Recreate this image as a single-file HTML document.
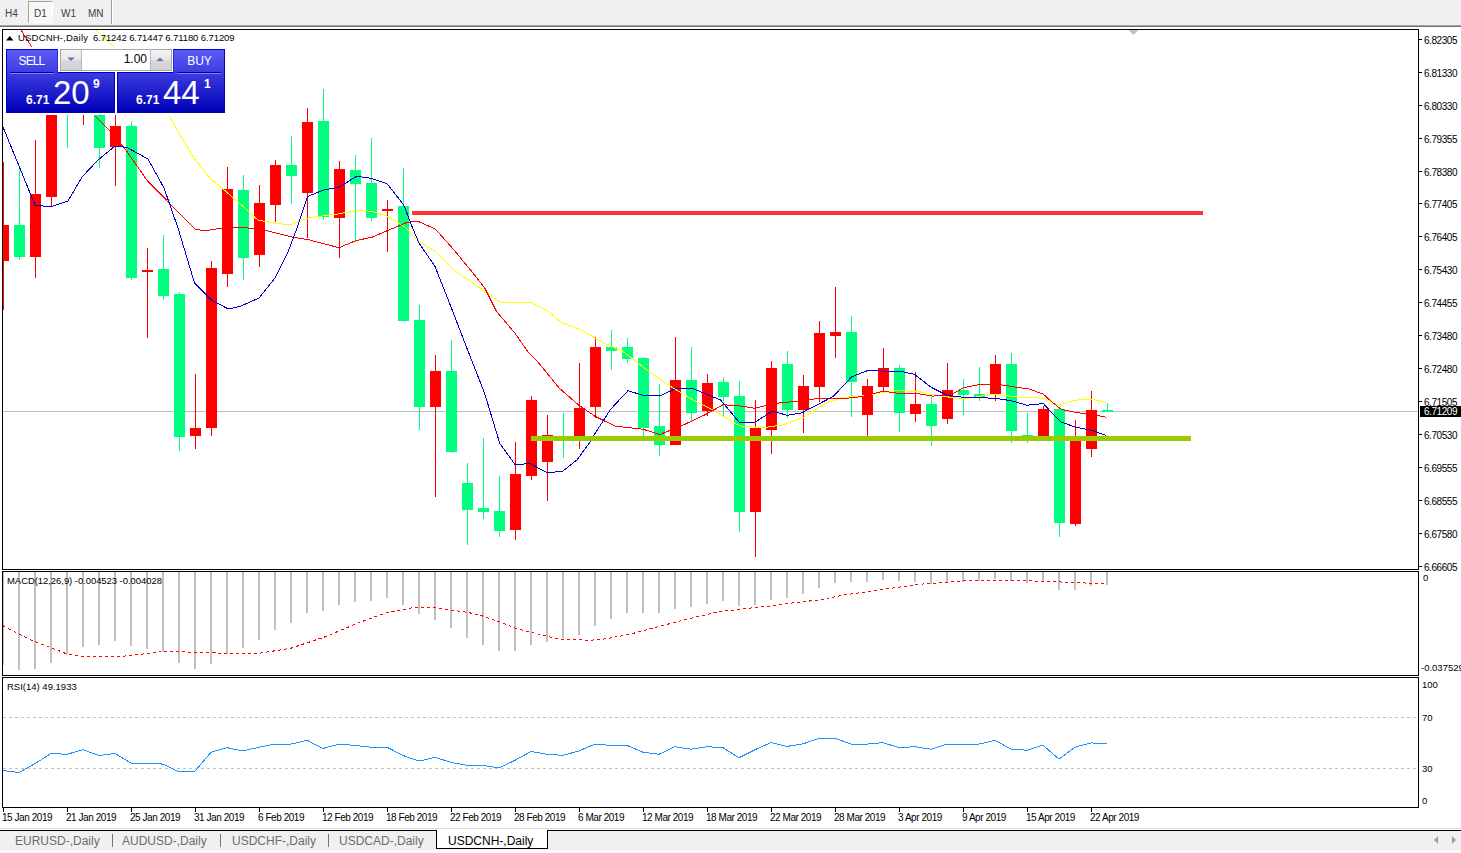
<!DOCTYPE html>
<html><head><meta charset="utf-8"><style>
html,body{margin:0;padding:0;}
body{width:1461px;height:853px;position:relative;overflow:hidden;background:#fff;font-family:"Liberation Sans",sans-serif;}
.t{position:absolute;font-size:9.5px;line-height:13px;color:#000;white-space:nowrap;}
#tb{position:absolute;left:0;top:0;width:1461px;height:25px;background:#F0F0F0;}
#tb .b{position:absolute;top:7px;font-size:10px;line-height:13px;color:#404040;}
#tbl{position:absolute;left:0;top:25px;width:1461px;height:2px;background:linear-gradient(#A8A8A8 50%,#6E6E6E 50%);}
#bot{position:absolute;left:0;top:831px;width:1461px;height:19px;background:#F0F0F0;}
#bot .tab{position:absolute;top:3px;font-size:12px;line-height:14px;color:#6D6D6D;}
.panel{position:absolute;}
</style></head><body>
<div id="tb">
 <div style="position:absolute;left:28px;top:1px;width:25px;height:22px;box-sizing:border-box;border-left:1px solid #A0A0A0;border-top:1px solid #A0A0A0;border-right:1px solid #fff;border-bottom:1px solid #fff;background:#F7F7F7"></div>
 <div class="b" style="left:5px">H4</div>
 <div class="b" style="left:34px">D1</div>
 <div class="b" style="left:61px">W1</div>
 <div class="b" style="left:88px">MN</div>
 <div style="position:absolute;left:111px;top:0;width:1px;height:24px;background:#A0A0A0"></div>
 <div style="position:absolute;left:112px;top:0;width:1px;height:24px;background:#fff"></div>
</div>
<div id="tbl"></div>
<svg width="1461" height="853" style="position:absolute;left:0;top:0"><defs><clipPath id="cm"><rect x="3" y="30" width="1415" height="538"/></clipPath><clipPath id="cmacd"><rect x="3" y="572" width="1415" height="103"/></clipPath><clipPath id="crsi"><rect x="3" y="678" width="1415" height="128"/></clipPath></defs><g clip-path="url(#cm)" shape-rendering="crispEdges"><rect x="3" y="411" width="1415" height="1" fill="#C0C0C0"/><rect x="3" y="162" width="1" height="148" fill="#FF0000"/><rect x="-2" y="225" width="11" height="36" fill="#FF0000"/><rect x="19" y="170" width="1" height="90" fill="#00FF7F"/><rect x="14" y="225" width="11" height="32" fill="#00FF7F"/><rect x="35" y="140" width="1" height="138" fill="#FF0000"/><rect x="30" y="194" width="11" height="63" fill="#FF0000"/><rect x="51" y="90" width="1" height="117" fill="#FF0000"/><rect x="46" y="100" width="11" height="97" fill="#FF0000"/><rect x="67" y="70" width="1" height="78" fill="#00FF7F"/><rect x="62" y="80" width="11" height="29" fill="#00FF7F"/><rect x="83" y="80" width="1" height="45" fill="#FF0000"/><rect x="78" y="95" width="11" height="11" fill="#FF0000"/><rect x="99" y="90" width="1" height="78" fill="#00FF7F"/><rect x="94" y="100" width="11" height="48" fill="#00FF7F"/><rect x="115" y="100" width="1" height="86" fill="#FF0000"/><rect x="110" y="126" width="11" height="21" fill="#FF0000"/><rect x="131" y="121" width="1" height="159" fill="#00FF7F"/><rect x="126" y="126" width="11" height="152" fill="#00FF7F"/><rect x="147" y="248" width="1" height="90" fill="#FF0000"/><rect x="142" y="270" width="11" height="2" fill="#FF0000"/><rect x="163" y="235" width="1" height="65" fill="#00FF7F"/><rect x="158" y="269" width="11" height="27" fill="#00FF7F"/><rect x="179" y="292" width="1" height="159" fill="#00FF7F"/><rect x="174" y="294" width="11" height="143" fill="#00FF7F"/><rect x="195" y="374" width="1" height="75" fill="#FF0000"/><rect x="190" y="428" width="11" height="8" fill="#FF0000"/><rect x="211" y="261" width="1" height="175" fill="#FF0000"/><rect x="206" y="268" width="11" height="160" fill="#FF0000"/><rect x="227" y="167" width="1" height="120" fill="#FF0000"/><rect x="222" y="189" width="11" height="85" fill="#FF0000"/><rect x="243" y="175" width="1" height="105" fill="#00FF7F"/><rect x="238" y="190" width="11" height="68" fill="#00FF7F"/><rect x="259" y="185" width="1" height="82" fill="#FF0000"/><rect x="254" y="203" width="11" height="52" fill="#FF0000"/><rect x="275" y="160" width="1" height="62" fill="#FF0000"/><rect x="270" y="165" width="11" height="40" fill="#FF0000"/><rect x="291" y="136" width="1" height="68" fill="#00FF7F"/><rect x="286" y="165" width="11" height="11" fill="#00FF7F"/><rect x="307" y="108" width="1" height="130" fill="#FF0000"/><rect x="302" y="122" width="11" height="71" fill="#FF0000"/><rect x="323" y="89" width="1" height="131" fill="#00FF7F"/><rect x="318" y="121" width="11" height="96" fill="#00FF7F"/><rect x="339" y="161" width="1" height="97" fill="#FF0000"/><rect x="334" y="169" width="11" height="49" fill="#FF0000"/><rect x="355" y="155" width="1" height="87" fill="#00FF7F"/><rect x="350" y="170" width="11" height="14" fill="#00FF7F"/><rect x="371" y="138" width="1" height="83" fill="#00FF7F"/><rect x="366" y="183" width="11" height="35" fill="#00FF7F"/><rect x="387" y="200" width="1" height="52" fill="#FF0000"/><rect x="382" y="209" width="11" height="2" fill="#FF0000"/><rect x="403" y="168" width="1" height="154" fill="#00FF7F"/><rect x="398" y="206" width="11" height="115" fill="#00FF7F"/><rect x="419" y="305" width="1" height="125" fill="#00FF7F"/><rect x="414" y="320" width="11" height="87" fill="#00FF7F"/><rect x="435" y="355" width="1" height="142" fill="#FF0000"/><rect x="430" y="371" width="11" height="36" fill="#FF0000"/><rect x="451" y="340" width="1" height="113" fill="#00FF7F"/><rect x="446" y="371" width="11" height="81" fill="#00FF7F"/><rect x="467" y="463" width="1" height="82" fill="#00FF7F"/><rect x="462" y="483" width="11" height="27" fill="#00FF7F"/><rect x="483" y="438" width="1" height="81" fill="#00FF7F"/><rect x="478" y="508" width="11" height="4" fill="#00FF7F"/><rect x="499" y="476" width="1" height="61" fill="#00FF7F"/><rect x="494" y="511" width="11" height="20" fill="#00FF7F"/><rect x="515" y="442" width="1" height="98" fill="#FF0000"/><rect x="510" y="474" width="11" height="56" fill="#FF0000"/><rect x="531" y="396" width="1" height="84" fill="#FF0000"/><rect x="526" y="400" width="11" height="76" fill="#FF0000"/><rect x="547" y="415" width="1" height="86" fill="#FF0000"/><rect x="542" y="435" width="11" height="27" fill="#FF0000"/><rect x="563" y="413" width="1" height="45" fill="#00FF7F"/><rect x="558" y="436" width="11" height="5" fill="#00FF7F"/><rect x="579" y="363" width="1" height="86" fill="#FF0000"/><rect x="574" y="408" width="11" height="29" fill="#FF0000"/><rect x="595" y="337" width="1" height="81" fill="#FF0000"/><rect x="590" y="347" width="11" height="60" fill="#FF0000"/><rect x="611" y="330" width="1" height="40" fill="#00FF7F"/><rect x="606" y="347" width="11" height="4" fill="#00FF7F"/><rect x="627" y="338" width="1" height="25" fill="#00FF7F"/><rect x="622" y="347" width="11" height="12" fill="#00FF7F"/><rect x="643" y="357" width="1" height="79" fill="#00FF7F"/><rect x="638" y="358" width="11" height="70" fill="#00FF7F"/><rect x="659" y="384" width="1" height="72" fill="#00FF7F"/><rect x="654" y="426" width="11" height="19" fill="#00FF7F"/><rect x="675" y="337" width="1" height="108" fill="#FF0000"/><rect x="670" y="380" width="11" height="65" fill="#FF0000"/><rect x="691" y="347" width="1" height="75" fill="#00FF7F"/><rect x="686" y="380" width="11" height="33" fill="#00FF7F"/><rect x="707" y="374" width="1" height="42" fill="#FF0000"/><rect x="702" y="383" width="11" height="28" fill="#FF0000"/><rect x="723" y="377" width="1" height="39" fill="#00FF7F"/><rect x="718" y="382" width="11" height="15" fill="#00FF7F"/><rect x="739" y="381" width="1" height="151" fill="#00FF7F"/><rect x="734" y="396" width="11" height="116" fill="#00FF7F"/><rect x="755" y="400" width="1" height="157" fill="#FF0000"/><rect x="750" y="428" width="11" height="84" fill="#FF0000"/><rect x="771" y="361" width="1" height="93" fill="#FF0000"/><rect x="766" y="368" width="11" height="62" fill="#FF0000"/><rect x="787" y="351" width="1" height="67" fill="#00FF7F"/><rect x="782" y="364" width="11" height="46" fill="#00FF7F"/><rect x="803" y="375" width="1" height="58" fill="#FF0000"/><rect x="798" y="386" width="11" height="24" fill="#FF0000"/><rect x="819" y="321" width="1" height="81" fill="#FF0000"/><rect x="814" y="333" width="11" height="54" fill="#FF0000"/><rect x="835" y="287" width="1" height="71" fill="#FF0000"/><rect x="830" y="332" width="11" height="4" fill="#FF0000"/><rect x="851" y="316" width="1" height="101" fill="#00FF7F"/><rect x="846" y="332" width="11" height="50" fill="#00FF7F"/><rect x="867" y="379" width="1" height="57" fill="#FF0000"/><rect x="862" y="386" width="11" height="29" fill="#FF0000"/><rect x="883" y="348" width="1" height="43" fill="#FF0000"/><rect x="878" y="368" width="11" height="19" fill="#FF0000"/><rect x="899" y="365" width="1" height="67" fill="#00FF7F"/><rect x="894" y="368" width="11" height="45" fill="#00FF7F"/><rect x="915" y="372" width="1" height="50" fill="#FF0000"/><rect x="910" y="404" width="11" height="10" fill="#FF0000"/><rect x="931" y="397" width="1" height="49" fill="#00FF7F"/><rect x="926" y="404" width="11" height="22" fill="#00FF7F"/><rect x="947" y="363" width="1" height="61" fill="#FF0000"/><rect x="942" y="390" width="11" height="29" fill="#FF0000"/><rect x="963" y="379" width="1" height="36" fill="#00FF7F"/><rect x="958" y="390" width="11" height="5" fill="#00FF7F"/><rect x="979" y="367" width="1" height="34" fill="#00FF7F"/><rect x="974" y="394" width="11" height="3" fill="#00FF7F"/><rect x="995" y="355" width="1" height="46" fill="#FF0000"/><rect x="990" y="364" width="11" height="30" fill="#FF0000"/><rect x="1011" y="353" width="1" height="90" fill="#00FF7F"/><rect x="1006" y="364" width="11" height="67" fill="#00FF7F"/><rect x="1027" y="413" width="1" height="30" fill="#00FF7F"/><rect x="1022" y="435" width="11" height="2" fill="#00FF7F"/><rect x="1043" y="406" width="1" height="33" fill="#FF0000"/><rect x="1038" y="409" width="11" height="30" fill="#FF0000"/><rect x="1059" y="408" width="1" height="129" fill="#00FF7F"/><rect x="1054" y="409" width="11" height="114" fill="#00FF7F"/><rect x="1075" y="420" width="1" height="106" fill="#FF0000"/><rect x="1070" y="438" width="11" height="86" fill="#FF0000"/><rect x="1091" y="391" width="1" height="66" fill="#FF0000"/><rect x="1086" y="410" width="11" height="39" fill="#FF0000"/><rect x="1107" y="403" width="1" height="9" fill="#00FF7F"/><rect x="1102" y="410" width="11" height="2" fill="#00FF7F"/></g><g clip-path="url(#cm)"><polyline fill="none" stroke="#FFFF00" stroke-width="1" shape-rendering="crispEdges"  points="96.0,30.0 113.8,46.8"/><polyline fill="none" stroke="#FFFF00" stroke-width="1" shape-rendering="crispEdges"  points="168.7,115.7 194.5,159.0 211.0,179.0 225.0,190.7 243.7,207.0 257.8,220.0 276.5,223.5 290.0,224.7 308.7,217.7 336.9,214.2 358.0,210.2 372.0,211.3 388.4,216.5 404.8,227.0 421.2,243.0 435.3,251.3 454.0,270.0 484.5,291.1 501.0,302.8 531.4,302.8 547.8,311.0 561.9,322.7 580.0,329.3 603.4,342.7 622.2,350.9 648.0,370.8 673.7,388.4 692.5,399.6 713.6,410.5 739.4,425.9 762.8,427.7 784.0,424.7 805.0,416.5 826.0,403.1 842.5,397.3 861.2,396.1 880.0,393.0 893.4,390.7 916.9,391.2 935.6,395.4 963.7,398.9 994.2,394.2 1020.0,397.3 1043.4,398.2 1058.4,405.2 1075.3,400.1 1092.2,399.5 1106.3,402.4"/><polyline fill="none" stroke="#FF0000" stroke-width="1" shape-rendering="crispEdges"  points="21.0,30.0 31.6,46.8"/><polyline fill="none" stroke="#FF0000" stroke-width="1" shape-rendering="crispEdges"  points="95.0,115.7 110.0,131.0 126.6,150.9 147.7,181.3 168.7,202.4 195.7,229.5 206.0,230.7 220.0,228.4 240.0,227.0 265.0,230.2 293.0,237.2 307.6,239.5 339.0,247.7 355.6,240.7 372.0,237.2 388.4,230.2 407.0,222.4 417.7,221.2 435.3,229.0 454.0,250.0 470.5,270.0 484.5,287.6 496.2,311.0 515.0,333.3 529.0,353.2 538.4,362.6 559.5,388.4 578.3,404.8 595.2,416.4 615.2,426.2 643.3,429.3 659.7,434.5 680.8,426.2 706.6,414.0 723.0,404.7 739.4,405.9 754.6,408.2 774.5,403.5 795.6,401.3 814.4,399.0 844.8,398.5 861.2,396.6 882.9,391.2 895.8,393.0 916.9,393.5 932.1,396.1 949.7,395.4 963.7,387.7 977.8,384.9 1001.2,384.9 1029.4,389.1 1043.4,394.2 1051.4,401.5 1061.3,409.4 1078.0,412.8 1092.2,414.4 1106.3,417.3"/><polyline fill="none" stroke="#0000CD" stroke-width="1" shape-rendering="crispEdges"  points="3.0,127.0 35.0,205.0 50.0,207.0 68.0,201.0 82.0,177.0 98.0,160.0 115.0,146.0 127.0,147.5 148.0,159.0 164.0,188.0 178.0,228.0 194.5,283.0 212.0,300.5 228.5,309.0 241.0,306.0 259.0,298.0 275.0,278.0 288.0,252.0 297.0,228.0 307.5,196.6 323.0,190.2 339.0,187.2 356.8,176.2 371.0,178.3 387.0,183.7 403.7,204.8 413.0,229.0 419.0,243.0 435.0,266.5 451.7,308.7 468.0,351.0 484.5,393.0 499.8,443.4 515.0,464.5 530.2,463.7 547.8,473.0 563.0,471.0 577.0,459.8 590.0,442.2 594.0,435.2 610.5,409.4 628.0,390.7 642.0,395.0 659.7,396.0 676.0,388.4 692.5,388.4 720.6,400.0 739.4,422.4 754.6,422.4 772.2,411.3 787.4,415.3 801.5,413.0 833.0,396.6 851.9,376.7 867.1,370.8 900.5,371.3 914.5,374.3 931.0,387.2 947.3,395.4 963.7,397.3 994.2,398.2 1010.6,400.6 1027.0,405.2 1043.4,403.6 1050.0,410.8 1061.3,422.0 1075.3,427.1 1092.2,430.5 1106.3,435.5"/><rect x="412" y="211" width="791" height="4" fill="#FF3333" shape-rendering="crispEdges"/><rect x="531" y="436" width="660" height="5" fill="#99CC00" shape-rendering="crispEdges"/></g><g clip-path="url(#cmacd)" shape-rendering="crispEdges"><rect x="2" y="572" width="2" height="93" fill="#C0C0C0"/><rect x="18" y="572" width="2" height="98" fill="#C0C0C0"/><rect x="34" y="572" width="2" height="97" fill="#C0C0C0"/><rect x="50" y="572" width="2" height="91" fill="#C0C0C0"/><rect x="66" y="572" width="2" height="83" fill="#C0C0C0"/><rect x="82" y="572" width="2" height="75" fill="#C0C0C0"/><rect x="98" y="572" width="2" height="73" fill="#C0C0C0"/><rect x="114" y="572" width="2" height="69" fill="#C0C0C0"/><rect x="130" y="572" width="2" height="74" fill="#C0C0C0"/><rect x="146" y="572" width="2" height="77" fill="#C0C0C0"/><rect x="162" y="572" width="2" height="80" fill="#C0C0C0"/><rect x="178" y="572" width="2" height="91" fill="#C0C0C0"/><rect x="194" y="572" width="2" height="97" fill="#C0C0C0"/><rect x="210" y="572" width="2" height="92" fill="#C0C0C0"/><rect x="226" y="572" width="2" height="82" fill="#C0C0C0"/><rect x="242" y="572" width="2" height="76" fill="#C0C0C0"/><rect x="258" y="572" width="2" height="68" fill="#C0C0C0"/><rect x="274" y="572" width="2" height="58" fill="#C0C0C0"/><rect x="290" y="572" width="2" height="51" fill="#C0C0C0"/><rect x="306" y="572" width="2" height="41" fill="#C0C0C0"/><rect x="322" y="572" width="2" height="39" fill="#C0C0C0"/><rect x="338" y="572" width="2" height="33" fill="#C0C0C0"/><rect x="354" y="572" width="2" height="30" fill="#C0C0C0"/><rect x="370" y="572" width="2" height="29" fill="#C0C0C0"/><rect x="386" y="572" width="2" height="26" fill="#C0C0C0"/><rect x="402" y="572" width="2" height="33" fill="#C0C0C0"/><rect x="418" y="572" width="2" height="42" fill="#C0C0C0"/><rect x="434" y="572" width="2" height="48" fill="#C0C0C0"/><rect x="450" y="572" width="2" height="56" fill="#C0C0C0"/><rect x="466" y="572" width="2" height="66" fill="#C0C0C0"/><rect x="482" y="572" width="2" height="73" fill="#C0C0C0"/><rect x="498" y="572" width="2" height="79" fill="#C0C0C0"/><rect x="514" y="572" width="2" height="79" fill="#C0C0C0"/><rect x="530" y="572" width="2" height="73" fill="#C0C0C0"/><rect x="546" y="572" width="2" height="70" fill="#C0C0C0"/><rect x="562" y="572" width="2" height="66" fill="#C0C0C0"/><rect x="578" y="572" width="2" height="63" fill="#C0C0C0"/><rect x="594" y="572" width="2" height="54" fill="#C0C0C0"/><rect x="610" y="572" width="2" height="47" fill="#C0C0C0"/><rect x="626" y="572" width="2" height="41" fill="#C0C0C0"/><rect x="642" y="572" width="2" height="41" fill="#C0C0C0"/><rect x="658" y="572" width="2" height="41" fill="#C0C0C0"/><rect x="674" y="572" width="2" height="37" fill="#C0C0C0"/><rect x="690" y="572" width="2" height="35" fill="#C0C0C0"/><rect x="706" y="572" width="2" height="32" fill="#C0C0C0"/><rect x="722" y="572" width="2" height="29" fill="#C0C0C0"/><rect x="738" y="572" width="2" height="34" fill="#C0C0C0"/><rect x="754" y="572" width="2" height="33" fill="#C0C0C0"/><rect x="770" y="572" width="2" height="28" fill="#C0C0C0"/><rect x="786" y="572" width="2" height="26" fill="#C0C0C0"/><rect x="802" y="572" width="2" height="22" fill="#C0C0C0"/><rect x="818" y="572" width="2" height="16" fill="#C0C0C0"/><rect x="834" y="572" width="2" height="11" fill="#C0C0C0"/><rect x="850" y="572" width="2" height="10" fill="#C0C0C0"/><rect x="866" y="572" width="2" height="10" fill="#C0C0C0"/><rect x="882" y="572" width="2" height="8" fill="#C0C0C0"/><rect x="898" y="572" width="2" height="9" fill="#C0C0C0"/><rect x="914" y="572" width="2" height="10" fill="#C0C0C0"/><rect x="930" y="572" width="2" height="12" fill="#C0C0C0"/><rect x="946" y="572" width="2" height="11" fill="#C0C0C0"/><rect x="962" y="572" width="2" height="10" fill="#C0C0C0"/><rect x="978" y="572" width="2" height="9" fill="#C0C0C0"/><rect x="994" y="572" width="2" height="7" fill="#C0C0C0"/><rect x="1010" y="572" width="2" height="9" fill="#C0C0C0"/><rect x="1026" y="572" width="2" height="11" fill="#C0C0C0"/><rect x="1042" y="572" width="2" height="10" fill="#C0C0C0"/><rect x="1058" y="572" width="2" height="18" fill="#C0C0C0"/><rect x="1074" y="572" width="2" height="18" fill="#C0C0C0"/><rect x="1090" y="572" width="2" height="14" fill="#C0C0C0"/><rect x="1106" y="572" width="2" height="13" fill="#C0C0C0"/></g><g clip-path="url(#cmacd)"><polyline fill="none" stroke="#FF0000" stroke-width="1" shape-rendering="crispEdges" stroke-dasharray="3,3" points="3.0,625.8 17.7,633.4 33.0,641.0 48.0,646.5 66.0,653.6 81.0,656.2 116.5,656.9 141.8,654.1 162.0,651.6 210.0,652.4 222.9,653.6 260.8,653.1 291.2,648.1 324.0,637.2 354.6,624.5 363.0,621.2 385.3,613.1 410.6,608.0 436.0,607.5 451.2,610.1 468.9,612.6 481.6,615.7 501.8,622.7 517.0,628.8 537.3,633.9 557.5,639.0 587.9,640.2 600.6,639.7 628.5,634.6 658.8,626.5 689.2,618.7 714.6,612.6 723.0,611.3 745.3,608.6 770.6,606.0 796.0,602.5 821.3,599.7 841.6,595.4 872.0,591.1 897.3,587.3 922.6,584.0 947.9,582.2 963.0,581.0 1011.0,580.4 1049.0,581.5 1090.0,583.2 1107.0,583.0"/></g><g shape-rendering="crispEdges"><line x1="3" y1="717.5" x2="1418" y2="717.5" stroke="#C0C0C0" stroke-width="1" stroke-dasharray="3,3"/><line x1="3" y1="768.5" x2="1418" y2="768.5" stroke="#C0C0C0" stroke-width="1" stroke-dasharray="3,3"/></g><g clip-path="url(#crsi)"><polyline fill="none" stroke="#1E90FF" stroke-width="1" shape-rendering="crispEdges"  points="3.0,770.5 19.0,772.5 35.0,763.6 51.0,753.5 67.0,754.3 83.0,749.7 99.0,755.5 115.0,753.5 131.0,763.1 147.0,763.1 163.0,764.1 179.0,772.0 195.0,771.2 211.0,752.2 227.0,747.7 243.0,751.0 259.0,747.2 275.0,744.1 291.0,744.1 307.0,740.3 323.0,748.4 339.0,744.1 355.0,745.4 371.0,747.2 387.0,747.2 403.0,755.5 419.0,761.1 435.0,757.3 451.0,762.4 467.0,765.4 483.0,765.4 499.0,767.9 515.0,760.3 531.0,751.5 547.0,754.3 563.0,755.3 579.0,751.0 595.0,744.1 611.0,745.4 627.0,745.4 643.0,752.2 659.0,754.3 675.0,746.7 691.0,749.2 707.0,746.7 723.0,747.7 739.0,757.8 755.0,749.7 771.0,742.6 787.0,746.4 803.0,743.9 819.0,738.3 835.0,738.3 851.0,744.1 867.0,744.1 883.0,742.6 899.0,747.7 915.0,746.7 931.0,749.2 947.0,744.1 963.0,744.1 979.0,744.1 995.0,740.3 1011.0,749.2 1027.0,750.2 1043.0,745.2 1059.0,759.1 1075.0,747.2 1091.0,742.9 1107.0,743.9"/></g><g shape-rendering="crispEdges" fill="#000"><rect x="2" y="29" width="1417" height="1"/><rect x="2" y="29" width="1" height="541"/><rect x="2" y="569" width="1417" height="1"/><rect x="2" y="571" width="1417" height="1"/><rect x="2" y="571" width="1" height="105"/><rect x="2" y="675" width="1417" height="1"/><rect x="2" y="677" width="1417" height="1"/><rect x="2" y="677" width="1" height="131"/><rect x="2" y="807" width="1417" height="1"/><rect x="1418" y="29" width="1" height="541"/><rect x="1418" y="571" width="1" height="105"/><rect x="1418" y="677" width="1" height="131"/><rect x="1419" y="39" width="3" height="1"/><rect x="1419" y="72" width="3" height="1"/><rect x="1419" y="105" width="3" height="1"/><rect x="1419" y="138" width="3" height="1"/><rect x="1419" y="171" width="3" height="1"/><rect x="1419" y="203" width="3" height="1"/><rect x="1419" y="236" width="3" height="1"/><rect x="1419" y="269" width="3" height="1"/><rect x="1419" y="302" width="3" height="1"/><rect x="1419" y="335" width="3" height="1"/><rect x="1419" y="368" width="3" height="1"/><rect x="1419" y="401" width="3" height="1"/><rect x="1419" y="434" width="3" height="1"/><rect x="1419" y="467" width="3" height="1"/><rect x="1419" y="500" width="3" height="1"/><rect x="1419" y="533" width="3" height="1"/><rect x="1419" y="566" width="3" height="1"/><rect x="3" y="808" width="1" height="4"/><rect x="67" y="808" width="1" height="4"/><rect x="131" y="808" width="1" height="4"/><rect x="195" y="808" width="1" height="4"/><rect x="259" y="808" width="1" height="4"/><rect x="323" y="808" width="1" height="4"/><rect x="387" y="808" width="1" height="4"/><rect x="451" y="808" width="1" height="4"/><rect x="515" y="808" width="1" height="4"/><rect x="579" y="808" width="1" height="4"/><rect x="643" y="808" width="1" height="4"/><rect x="707" y="808" width="1" height="4"/><rect x="771" y="808" width="1" height="4"/><rect x="835" y="808" width="1" height="4"/><rect x="899" y="808" width="1" height="4"/><rect x="963" y="808" width="1" height="4"/><rect x="1027" y="808" width="1" height="4"/><rect x="1091" y="808" width="1" height="4"/></g><polygon points="1128.5,30 1138.5,30 1133.5,35" fill="#C0C0C0"/></svg><div class="t" style="left:1424px;top:34px;font-size:10px;letter-spacing:-0.45px">6.82305</div><div class="t" style="left:1424px;top:67px;font-size:10px;letter-spacing:-0.45px">6.81330</div><div class="t" style="left:1424px;top:100px;font-size:10px;letter-spacing:-0.45px">6.80330</div><div class="t" style="left:1424px;top:133px;font-size:10px;letter-spacing:-0.45px">6.79355</div><div class="t" style="left:1424px;top:166px;font-size:10px;letter-spacing:-0.45px">6.78380</div><div class="t" style="left:1424px;top:198px;font-size:10px;letter-spacing:-0.45px">6.77405</div><div class="t" style="left:1424px;top:231px;font-size:10px;letter-spacing:-0.45px">6.76405</div><div class="t" style="left:1424px;top:264px;font-size:10px;letter-spacing:-0.45px">6.75430</div><div class="t" style="left:1424px;top:297px;font-size:10px;letter-spacing:-0.45px">6.74455</div><div class="t" style="left:1424px;top:330px;font-size:10px;letter-spacing:-0.45px">6.73480</div><div class="t" style="left:1424px;top:363px;font-size:10px;letter-spacing:-0.45px">6.72480</div><div class="t" style="left:1424px;top:396px;font-size:10px;letter-spacing:-0.45px">6.71505</div><div class="t" style="left:1424px;top:429px;font-size:10px;letter-spacing:-0.45px">6.70530</div><div class="t" style="left:1424px;top:462px;font-size:10px;letter-spacing:-0.45px">6.69555</div><div class="t" style="left:1424px;top:495px;font-size:10px;letter-spacing:-0.45px">6.68555</div><div class="t" style="left:1424px;top:528px;font-size:10px;letter-spacing:-0.45px">6.67580</div><div class="t" style="left:1424px;top:561px;font-size:10px;letter-spacing:-0.45px">6.66605</div><div style="position:absolute;left:1420px;top:406px;width:41px;height:11px;background:#000"></div><div class="t" style="left:1424px;top:405px;color:#fff;font-size:10px;letter-spacing:-0.45px">6.71209</div><div class="t" style="left:1423px;top:571px;">0</div><div class="t" style="left:1421px;top:661px;">-0.037529</div><div class="t" style="left:1422px;top:678px;">100</div><div class="t" style="left:1422px;top:711px;">70</div><div class="t" style="left:1422px;top:762px;">30</div><div class="t" style="left:1422px;top:794px;">0</div><div class="t" style="left:2px;top:811px;font-size:10px;letter-spacing:-0.45px">15 Jan 2019</div><div class="t" style="left:66px;top:811px;font-size:10px;letter-spacing:-0.45px">21 Jan 2019</div><div class="t" style="left:130px;top:811px;font-size:10px;letter-spacing:-0.45px">25 Jan 2019</div><div class="t" style="left:194px;top:811px;font-size:10px;letter-spacing:-0.45px">31 Jan 2019</div><div class="t" style="left:258px;top:811px;font-size:10px;letter-spacing:-0.45px">6 Feb 2019</div><div class="t" style="left:322px;top:811px;font-size:10px;letter-spacing:-0.45px">12 Feb 2019</div><div class="t" style="left:386px;top:811px;font-size:10px;letter-spacing:-0.45px">18 Feb 2019</div><div class="t" style="left:450px;top:811px;font-size:10px;letter-spacing:-0.45px">22 Feb 2019</div><div class="t" style="left:514px;top:811px;font-size:10px;letter-spacing:-0.45px">28 Feb 2019</div><div class="t" style="left:578px;top:811px;font-size:10px;letter-spacing:-0.45px">6 Mar 2019</div><div class="t" style="left:642px;top:811px;font-size:10px;letter-spacing:-0.45px">12 Mar 2019</div><div class="t" style="left:706px;top:811px;font-size:10px;letter-spacing:-0.45px">18 Mar 2019</div><div class="t" style="left:770px;top:811px;font-size:10px;letter-spacing:-0.45px">22 Mar 2019</div><div class="t" style="left:834px;top:811px;font-size:10px;letter-spacing:-0.45px">28 Mar 2019</div><div class="t" style="left:898px;top:811px;font-size:10px;letter-spacing:-0.45px">3 Apr 2019</div><div class="t" style="left:962px;top:811px;font-size:10px;letter-spacing:-0.45px">9 Apr 2019</div><div class="t" style="left:1026px;top:811px;font-size:10px;letter-spacing:-0.45px">15 Apr 2019</div><div class="t" style="left:1090px;top:811px;font-size:10px;letter-spacing:-0.45px">22 Apr 2019</div><div class="t" style="left:7px;top:574px;letter-spacing:-0.06px">MACD(12,26,9) -0.004523 -0.004028</div><div class="t" style="left:7px;top:680px;">RSI(14) 49.1933</div><div class="t" style="left:18px;top:31px;letter-spacing:0.2px">USDCNH-,Daily</div><div class="t" style="left:93px;top:31px;letter-spacing:-0.1px">6.71242 6.71447 6.71180 6.71209</div>
<!-- trade panel -->
<div class="panel" style="left:4px;top:48px;width:223px;height:67px;background:#fff"></div>
<div class="panel" style="left:6px;top:49px;width:52px;height:25px;box-sizing:border-box;border-top:1px solid #0000C8;border-left:1px solid #0000C8;border-right:1px solid #2A2AD0;background:linear-gradient(#5C5CF8,#3A3AE2);"></div>
<div class="panel" style="left:173px;top:49px;width:52px;height:25px;box-sizing:border-box;border-top:1px solid #0000C8;border-left:1px solid #2A2AD0;border-right:1px solid #0000C8;background:linear-gradient(#5C5CF8,#3A3AE2);"></div>
<div class="panel" style="left:60px;top:49px;width:112px;height:22px;box-sizing:border-box;border:1px solid #A8A8A8;background:#fff"></div>
<div class="panel" style="left:61px;top:50px;width:21px;height:20px;box-sizing:border-box;border-right:1px solid #B8B8B8;background:linear-gradient(#F2F2F2,#E8E8E8 45%,#D8D8D8 55%,#D2D2D2)"></div>
<div class="panel" style="left:150px;top:50px;width:21px;height:20px;box-sizing:border-box;border-left:1px solid #B8B8B8;background:linear-gradient(#F2F2F2,#E8E8E8 45%,#D8D8D8 55%,#D2D2D2)"></div>
<svg class="panel" style="left:66px;top:57px" width="10" height="5"><polygon points="1.5,0.5 8.5,0.5 5,4" fill="#5A6FC0"/></svg>
<svg class="panel" style="left:155px;top:57px" width="10" height="5"><polygon points="1.5,4 8.5,4 5,0.5" fill="#5A6FC0"/></svg>
<div class="t" style="left:115px;top:52px;width:32px;text-align:right;font-size:12px;line-height:15px">1.00</div>
<div class="panel" style="left:6px;top:73px;width:109px;height:40px;box-sizing:border-box;border:1px solid #0000C0;border-top:none;background:linear-gradient(#3C3CE0,#0000B8);"></div>
<div class="panel" style="left:117px;top:73px;width:108px;height:40px;box-sizing:border-box;border:1px solid #0000C0;border-top:none;background:linear-gradient(#3C3CE0,#0000B8);"></div>
<div class="panel" style="left:58px;top:72px;width:57px;height:1px;background:#0000C0"></div>
<div class="panel" style="left:117px;top:72px;width:56px;height:1px;background:#0000C0"></div>
<div class="panel" style="left:10px;top:72px;width:44px;height:1px;background:#0000A8"></div>
<div class="panel" style="left:10px;top:73px;width:44px;height:1px;background:#8282F8"></div>
<div class="panel" style="left:177px;top:72px;width:44px;height:1px;background:#0000A8"></div>
<div class="panel" style="left:177px;top:73px;width:44px;height:1px;background:#8282F8"></div>
<div class="t" style="left:6px;top:54px;width:51px;text-align:center;color:#fff;font-size:12px;line-height:15px;letter-spacing:-0.9px">SELL</div>
<div class="t" style="left:174px;top:54px;width:51px;text-align:center;color:#fff;font-size:12px;line-height:15px">BUY</div>
<div class="t" style="left:26px;top:93px;color:#fff;font-size:12px;font-weight:bold;line-height:14px">6.71</div>
<div class="t" style="left:53px;top:75px;color:#fff;font-size:33px;line-height:36px">20</div>
<div class="t" style="left:93px;top:77px;color:#fff;font-size:12px;font-weight:bold;line-height:14px">9</div>
<div class="t" style="left:136px;top:93px;color:#fff;font-size:12px;font-weight:bold;line-height:14px">6.71</div>
<div class="t" style="left:163px;top:75px;color:#fff;font-size:33px;line-height:36px">44</div>
<div class="t" style="left:204px;top:77px;color:#fff;font-size:12px;font-weight:bold;line-height:14px">1</div>
<!-- title marker -->
<svg class="panel" style="left:6px;top:36px" width="8" height="5"><polygon points="0,4.5 7.5,4.5 3.75,0" fill="#000"/></svg>
<!-- bottom tabs -->
<div style="position:absolute;left:0;top:828px;width:1461px;height:1px;background:#DCDCDC"></div>
<div style="position:absolute;left:0;top:830px;width:1461px;height:1px;background:#000"></div>
<div id="bot">
 <div class="tab" style="left:15px">EURUSD-,Daily</div>
 <div style="position:absolute;left:112px;top:3px;width:1px;height:13px;background:#777"></div>
 <div class="tab" style="left:122px">AUDUSD-,Daily</div>
 <div style="position:absolute;left:220px;top:3px;width:1px;height:13px;background:#777"></div>
 <div class="tab" style="left:232px">USDCHF-,Daily</div>
 <div style="position:absolute;left:328px;top:3px;width:1px;height:13px;background:#777"></div>
 <div class="tab" style="left:339px">USDCAD-,Daily</div>
 <div style="position:absolute;left:436px;top:-1px;width:112px;height:19px;box-sizing:border-box;border:1px solid #000;border-top:none;background:#fff"></div>
 <div class="tab" style="left:448px;color:#000">USDCNH-,Daily</div>
 <svg style="position:absolute;left:1432px;top:4px" width="8" height="10"><polygon points="6,1 6,9 2,5" fill="#A0A0A0"/></svg>
 <svg style="position:absolute;left:1450px;top:4px" width="8" height="10"><polygon points="2,1 2,9 6,5" fill="#A0A0A0"/></svg>
</div>
<div style="position:absolute;left:0;top:850px;width:1461px;height:3px;background:#FAFAFA"></div>
</body></html>
